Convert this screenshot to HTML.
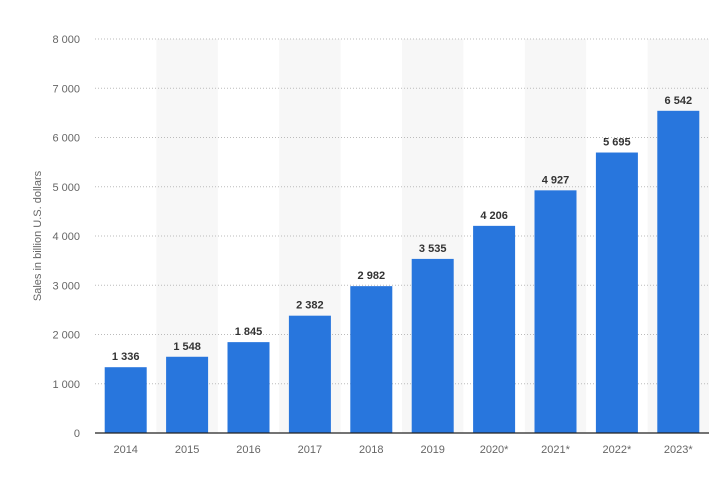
<!DOCTYPE html>
<html><head><meta charset="utf-8"><style>
body{margin:0;background:#fff;font-family:"Liberation Sans",Arial,sans-serif}
svg text{font-family:"Liberation Sans",Arial,sans-serif}
</style></head><body>
<svg id="chart" width="712" height="482" xmlns="http://www.w3.org/2000/svg">
<g id="bands"></g><g id="grid"></g><g id="bars"></g><g id="labels"></g>
<text transform="translate(41,236) rotate(-90)" text-anchor="middle" font-size="11" fill="#666">Sales in billion U.S. dollars</text>
<line x1="95" x2="709" y1="433" y2="433" stroke="#222" stroke-width="1.2"/>
</svg>
<script>
const categories=["2014","2015","2016","2017","2018","2019","2020*","2021*","2022*","2023*"];
const values=[1336,1548,1845,2382,2982,3535,4206,4927,5695,6542];
const valueLabels=["1 336","1 548","1 845","2 382","2 982","3 535","4 206","4 927","5 695","6 542"];
const yTicks=[0,1000,2000,3000,4000,5000,6000,7000,8000];
const yTickLabels=["0","1 000","2 000","3 000","4 000","5 000","6 000","7 000","8 000"];
const NS="http://www.w3.org/2000/svg";
const x0=95,x1=709,yBase=433,yTop=39,yMax=8000;
const step=(x1-x0)/categories.length,bw=42;
const y=v=>yBase-(v/yMax)*(yBase-yTop);
const xc=i=>x0+step*(i+0.5);
function mk(t,a,p){const e=document.createElementNS(NS,t);for(const k in a)e.setAttribute(k,a[k]);p.appendChild(e);return e;}
const bands=document.getElementById('bands'),grid=document.getElementById('grid'),bars=document.getElementById('bars'),labels=document.getElementById('labels');
categories.forEach((c,i)=>{
 if(i%2===1){const r=mk('rect',{x:x0+step*i,y:yTop,width:step,height:yBase-yTop,fill:'#f7f7f7'},bands);
 
 }
});
yTicks.forEach((t,i)=>{
 if(t>0){const l=mk('line',{x1:x0,x2:x1,y1:y(t),y2:y(t),stroke:'#bbb','stroke-dasharray':'1 2'},grid);
 
 }
 const tx=mk('text',{x:80,y:y(t)+4,'text-anchor':'end','font-size':11,fill:'#666'},grid);
 tx.textContent=yTickLabels[i];
 
 
});
categories.forEach((c,i)=>{
 const b=mk('rect',{x:xc(i)-bw/2,y:y(values[i]),width:bw,height:yBase-y(values[i]),fill:'#2876dd'},bars);
 
 
 const v=mk('text',{x:xc(i),y:y(values[i])-7,'text-anchor':'middle','font-size':11,'font-weight':'bold',fill:'#333'},labels);
 v.textContent=valueLabels[i];
 
 
 const xl=mk('text',{x:xc(i),y:453,'text-anchor':'middle','font-size':11,fill:'#666'},labels);
 xl.textContent=c;
 
 
});
</script>
</body></html>
